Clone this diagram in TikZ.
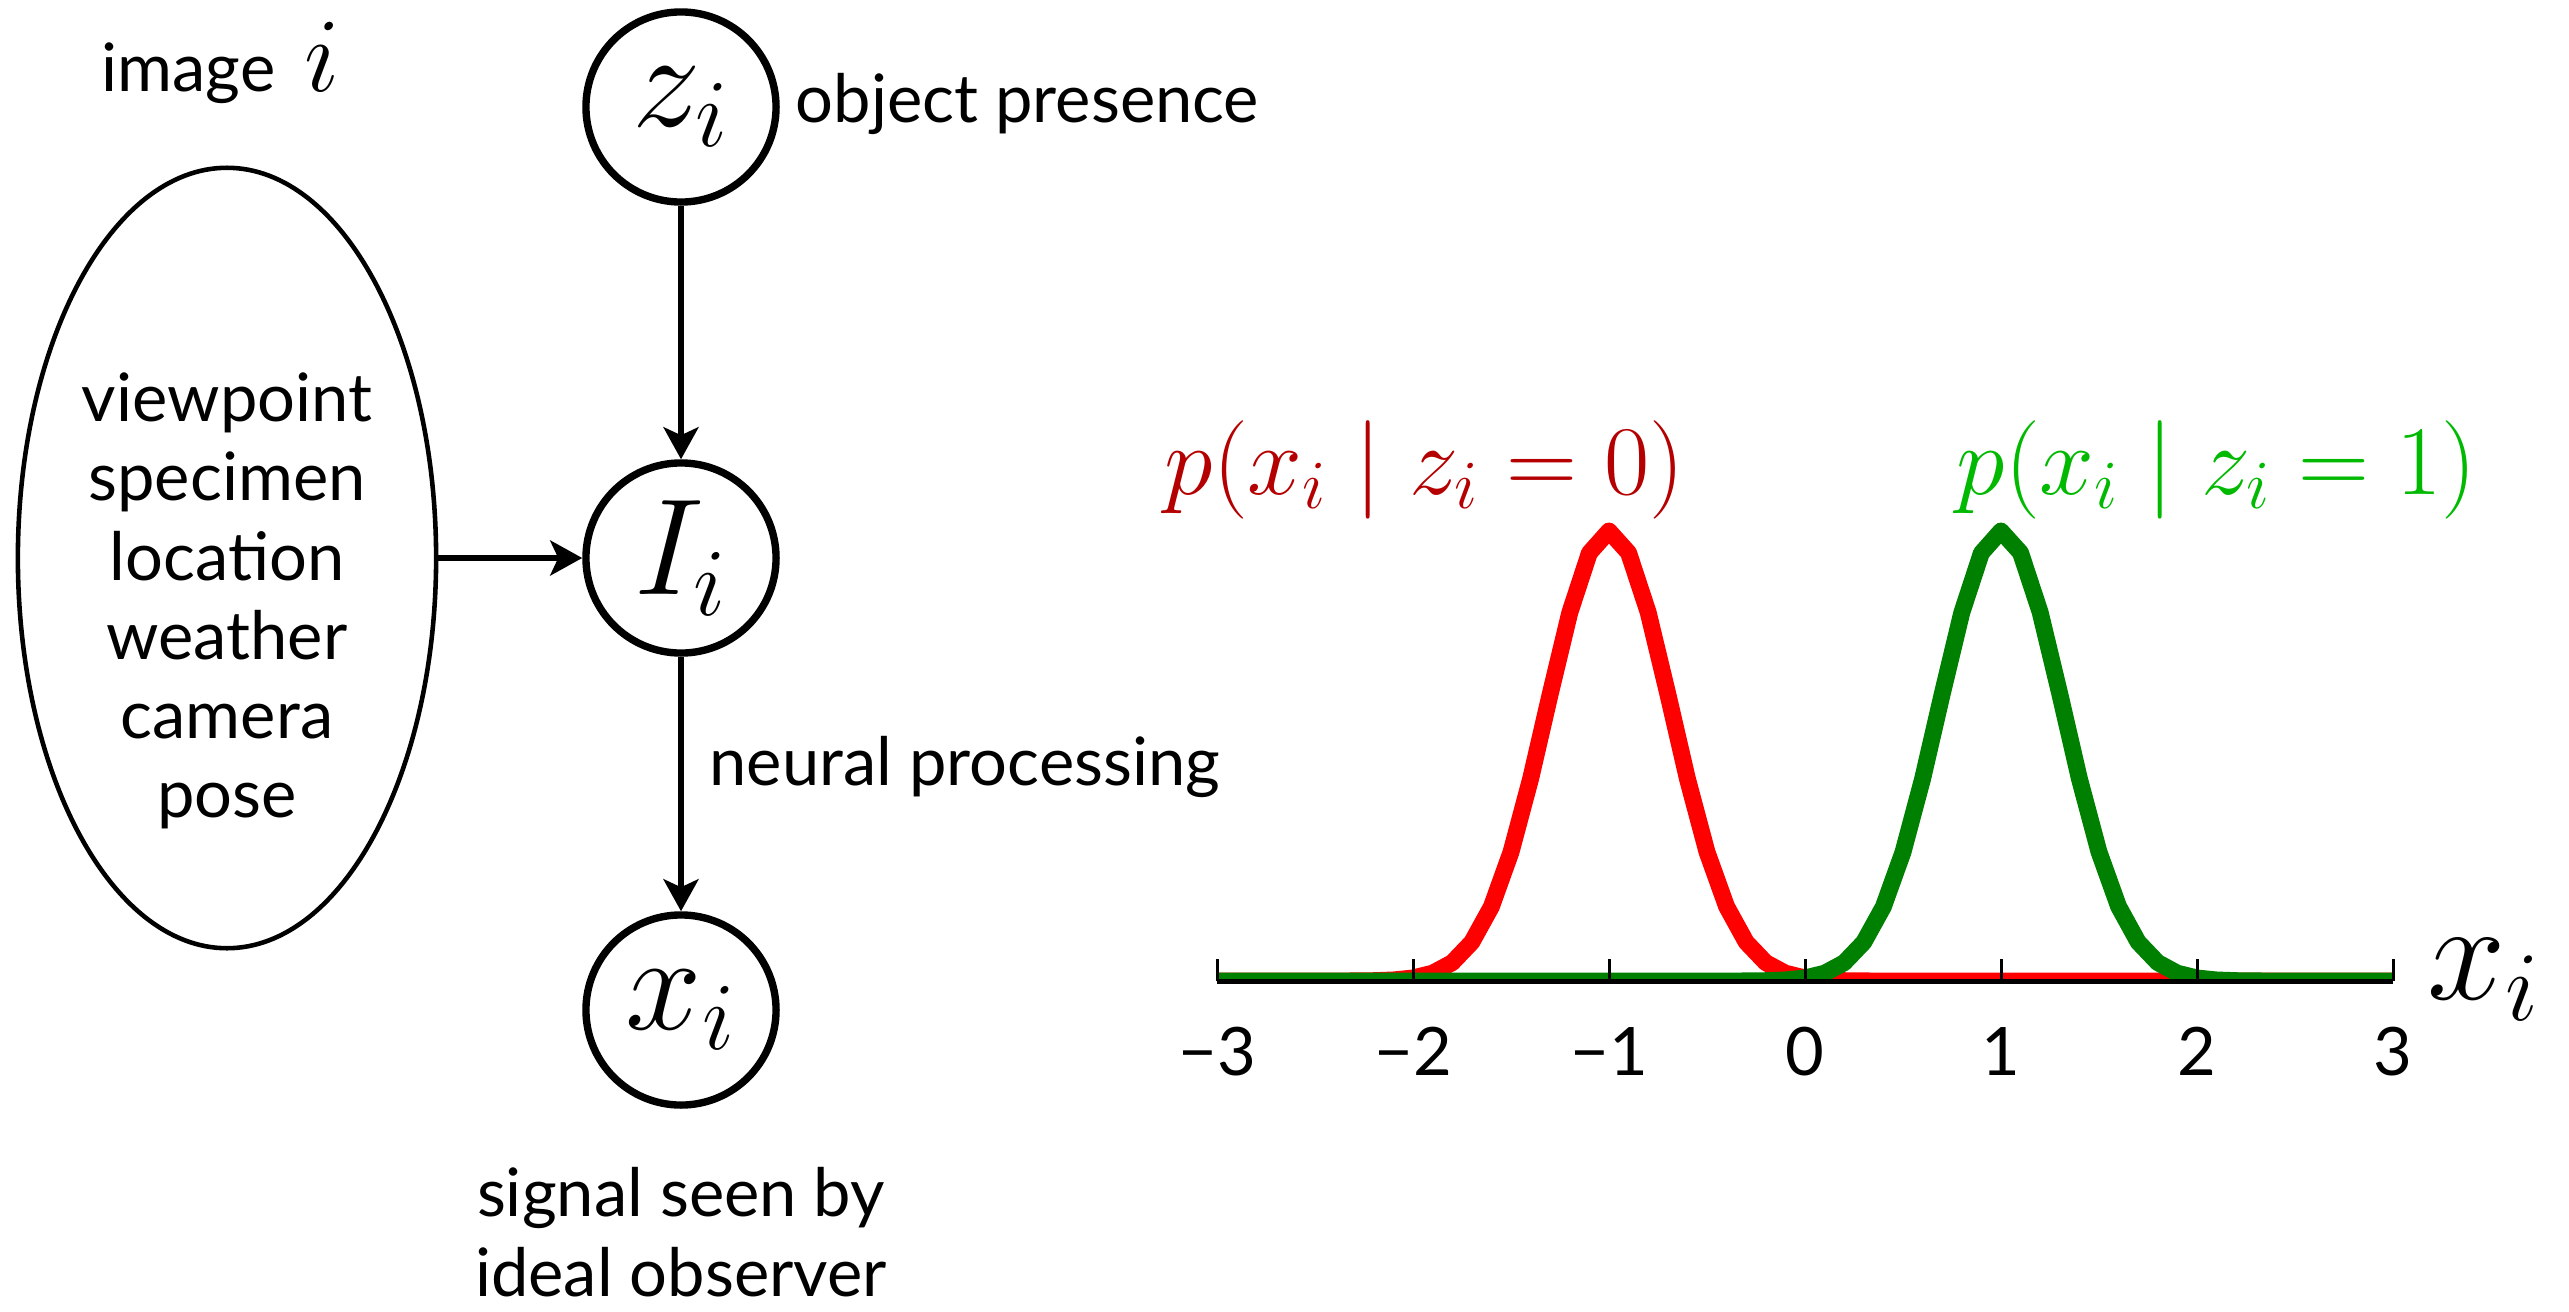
\RequirePackage{fix-cm}
\documentclass[tikz,border=0pt]{standalone}
\usepackage[no-math]{fontspec}
\setmainfont{Lato}
\usetikzlibrary{arrows.meta,shapes.geometric}
\definecolor{labred}{RGB}{180,0,0}
\definecolor{labgreen}{RGB}{0,185,0}
\definecolor{curvered}{RGB}{255,0,0}
\definecolor{curvegreen}{RGB}{0,128,0}
\begin{document}
\begin{tikzpicture}[x=0.01cm,y=-0.01cm,
  every node/.style={font=\fontsize{19}{22.5}\selectfont},
  var/.style={circle,draw,line width=2.1pt,minimum size=1.9cm,inner sep=0pt,font=\fontsize{39}{39}\selectfont},
  arr/.style={line width=1.6pt,-{Stealth[length=0.32cm,width=0.35cm,inset=0.08cm]}},
  txt/.style={inner sep=0pt},
  curve/.style={line width=4.8pt,line join=round},
  tick/.style={line width=0.85pt},
  ticklab/.style={inner sep=0pt,anchor=base}
]
\useasboundingbox (0,0) rectangle (2569,1312);
% graphical model
\node[var] (z) at (681,107) {$z_i$};
\node[var] (I) at (681,558) {$I_i$};
\node[var] (x) at (681,1010) {$x_i$};
\node[ellipse,draw,line width=1.3pt,minimum width=4.18cm,minimum height=7.80cm,inner sep=0pt] (E) at (227,558) {};
\node[txt,align=center] (Etxt) at (227,601) {viewpoint\\specimen\\location\\weather\\camera\\pose};
\node[txt,anchor=base west] (img) at (101,91) {image\hspace{0.12cm} {\fontsize{30}{30}\selectfont$i$}};
\node[txt,anchor=base west] (obj) at (795,122) {object presence};
\node[txt,anchor=base west] (neur) at (709,785) {neural processing};
\node[txt,align=center,anchor=north] (sig) at (681,1167) {signal seen by\\ideal observer};
\draw[arr] (z) -- (I);
\draw[arr] (I) -- (x);
\draw[arr] (I.west -| E.east) -- (I.west);
% plot
\begin{scope}
  \clip (1150,0) rectangle (2450,981);
  \draw[curve,curvered] plot[domain=-3:3,samples=61] ({1805+196*\x},{981-450*exp(-5*(\x+1)*(\x+1))});
  \draw[curve,curvegreen] plot[domain=-3:3,samples=61] ({1805+196*\x},{981-450*exp(-5*(\x-1)*(\x-1))});
\end{scope}
\coordinate (axL) at (1217,981.5);
\coordinate (axR) at (2393,981.5);
\draw[line width=1.45pt] (axL) -- (axR);
\foreach \t/\l in {-3/−3,-2/−2,-1/−1,0/0,1/1,2/2,3/3}{
  \draw[tick] ({1805+196*\t},981) -- ({1805+196*\t},959);
  \node[ticklab] (t\t) at ({1805+196*\t},1075) {\l};
}
\node[txt,anchor=base west,font=\fontsize{40}{40}\selectfont] (xlab) at (2427,999) {$x_i$};
\node[txt,anchor=base west,text=labred,font=\fontsize{28}{28}\selectfont] (pr) at (1164,494) {$p(x_i \mid z_i = 0)$};
\node[txt,anchor=base west,text=labgreen,font=\fontsize{28}{28}\selectfont] (pg) at (1956,494) {$p(x_i \mid z_i = 1)$};
\end{tikzpicture}
\end{document}
